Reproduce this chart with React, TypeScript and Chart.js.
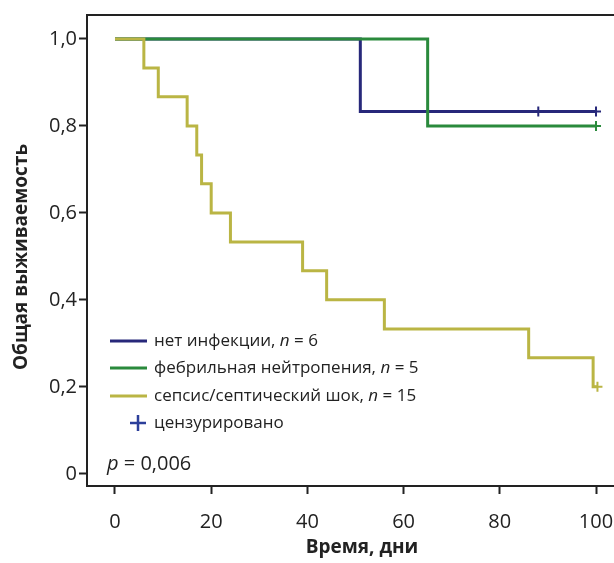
import React, { useEffect, useRef } from "react";
import { Chart, registerables } from "chart.js";

Chart.register(...registerables);

// ---- data ----
const noInfTimes = [0, 51, 88, 100];
const noInfSurv = [1, 0.833, 0.833, 0.833];
const noInfCensored = [false, false, true, true];

const febTimes = [0, 65, 100];
const febSurv = [1, 0.8, 0.8];
const febCensored = [false, false, true];

const sepsisTimes = [0, 6, 9, 15, 17, 18, 20, 24, 39, 44, 56, 86, 99.4, 100.3];
const sepsisSurv = [1, 0.933, 0.867, 0.8, 0.733, 0.667, 0.6, 0.533, 0.467, 0.4, 0.333, 0.267, 0.2, 0.2];
const sepsisCensored = [false, false, false, false, false, false, false, false, false, false, false, false, false, true];

const xTickValues = [0, 20, 40, 60, 80, 100];
const xTickLabels = ["0", "20", "40", "60", "80", "100"];
const yTickValues = [0, 0.2, 0.4, 0.6, 0.8, 1.0];
const yTickLabels = ["0", "0,2", "0,4", "0,6", "0,8", "1,0"];

const seriesNames = ["нет инфекции, ", "фебрильная нейтропения, ", "сепсис/септический шок, "];
const seriesN = ["6", "5", "15"];
const censoredLabel = "цензурировано";
const pValueText = "0,006";
const xTitle = "Время, дни";
const yTitle = "Общая выживаемость";

const BLUE = "#27287a";
const GREEN = "#2a8a3c";
const YELLOW = "#bab544";
const CENSOR_BLUE = "#2c3f9a";
const TEXT = "#222222";
const FONT = '"Open Sans", "DejaVu Sans", sans-serif';

function toPoints(t: number[], s: number[]) {
  return t.map((x, i) => ({ x, y: s[i] }));
}

function drawRuns(ctx: CanvasRenderingContext2D, x: number, y: number, runs: [string, boolean][], size: number) {
  let cx = x;
  for (const [txt, italic] of runs) {
    ctx.font = `${italic ? "italic " : ""}${size}px ${FONT}`;
    ctx.fillText(txt, cx, y);
    cx += ctx.measureText(txt).width;
  }
}

const framePlugin = {
  id: "frame",
  afterDraw(chart: any) {
    const { ctx, chartArea } = chart;
    const W = chart.width;
    ctx.save();
    ctx.strokeStyle = TEXT;
    ctx.lineWidth = 2;
    ctx.beginPath();
    ctx.moveTo(W + 2, chartArea.top);
    ctx.lineTo(chartArea.left, chartArea.top);
    ctx.lineTo(chartArea.left, chartArea.bottom);
    ctx.lineTo(W + 2, chartArea.bottom);
    ctx.stroke();

    // y-axis title
    ctx.save();
    ctx.translate(22, 257);
    ctx.rotate(-Math.PI / 2);
    ctx.textAlign = "center";
    ctx.textBaseline = "middle";
    ctx.fillStyle = TEXT;
    ctx.font = `bold 19px ${FONT}`;
    ctx.fillText(yTitle, 0, 0);
    ctx.restore();

    // x-axis title
    ctx.save();
    ctx.textAlign = "center";
    ctx.textBaseline = "middle";
    ctx.fillStyle = TEXT;
    ctx.font = `bold 19px ${FONT}`;
    ctx.fillText(xTitle, 362, 548);
    ctx.restore();

    // legend
    const lx = chartArea.left + 23;
    const ty = chartArea.top;
    const rows = [326, 353, 381];
    const colors = [BLUE, GREEN, YELLOW];
    ctx.textBaseline = "middle";
    ctx.fillStyle = TEXT;
    rows.forEach((r, i) => {
      ctx.strokeStyle = colors[i];
      ctx.lineWidth = 3;
      ctx.beginPath();
      ctx.moveTo(lx, ty + r);
      ctx.lineTo(lx + 37, ty + r);
      ctx.stroke();
      drawRuns(ctx, lx + 44, ty + r, [[seriesNames[i], false], ["n", true], [" = " + seriesN[i], false]], 17);
    });
    // censored entry
    const cy = ty + 408;
    const cxm = lx + 28;
    ctx.strokeStyle = CENSOR_BLUE;
    ctx.lineWidth = 2.5;
    ctx.beginPath();
    ctx.moveTo(cxm - 8, cy);
    ctx.lineTo(cxm + 8, cy);
    ctx.moveTo(cxm, cy - 8);
    ctx.lineTo(cxm, cy + 8);
    ctx.stroke();
    drawRuns(ctx, lx + 44, cy, [[censoredLabel, false]], 17);
    // p-value
    drawRuns(ctx, chartArea.left + 20, ty + 449, [["p", true], [" = " + pValueText, false]], 20);
    ctx.restore();
  },
};

function makeDataset(label: string, t: number[], s: number[], c: boolean[], color: string, order: number) {
  return {
    label,
    data: toPoints(t, s),
    borderColor: color,
    backgroundColor: color,
    borderWidth: 3,
    stepped: "before" as const,
    pointStyle: "cross" as const,
    pointRadius: c.map((v) => (v ? 5 : 0)),
    pointBorderWidth: 2,
    pointBorderColor: color,
    pointHoverRadius: 0,
    order,
  };
}

export default function App() {
  const ref = useRef<HTMLCanvasElement | null>(null);
  useEffect(() => {
    if (!ref.current) return;
    const chart = new Chart(ref.current, {
      type: "line",
      data: {
        datasets: [
          makeDataset("нет инфекции", noInfTimes, noInfSurv, noInfCensored, BLUE, 2),
          makeDataset("фебрильная нейтропения", febTimes, febSurv, febCensored, GREEN, 1),
          makeDataset("сепсис/септический шок", sepsisTimes, sepsisSurv, sepsisCensored, YELLOW, 0),
        ],
      },
      options: {
        responsive: false,
        animation: false,
        devicePixelRatio: 1,
        layout: { autoPadding: false, padding: { top: 15, right: 0, left: 0, bottom: 0 } },
        plugins: { legend: { display: false }, tooltip: { enabled: false } },
        scales: {
          x: {
            type: "linear",
            min: -5.82,
            max: 103.74,
            afterBuildTicks: (scale: any) => {
              scale.ticks = xTickValues.map((v) => ({ value: v }));
            },
            afterFit: (scale: any) => {
              scale.height = 77;
              scale.paddingLeft = 0;
              scale.paddingRight = 0;
            },
            grid: { display: true, drawOnChartArea: false, drawTicks: true, tickLength: 8, tickWidth: 2, tickColor: TEXT },
            border: { display: false },
            ticks: {
              color: TEXT,
              font: { family: FONT, size: 20 },
              padding: 16,
              maxRotation: 0,
              callback: (v: any) => {
                const i = xTickValues.indexOf(Number(v));
                return i >= 0 ? xTickLabels[i] : "";
              },
            },
            title: { display: false },
          },
          y: {
            type: "linear",
            min: -0.028,
            max: 1.055,
            afterBuildTicks: (scale: any) => {
              scale.ticks = yTickValues.map((v) => ({ value: v }));
            },
            afterFit: (scale: any) => {
              scale.width = 87;
              scale.paddingTop = 0;
              scale.paddingBottom = 0;
            },
            grid: { display: true, drawOnChartArea: false, drawTicks: true, tickLength: 8, tickWidth: 2, tickColor: TEXT },
            border: { display: false },
            ticks: {
              color: TEXT,
              font: { family: FONT, size: 20 },
              padding: 2,
              callback: (v: any) => {
                const i = yTickValues.findIndex((t) => Math.abs(t - Number(v)) < 1e-9);
                return i >= 0 ? yTickLabels[i] : "";
              },
            },
            title: { display: false },
          },
        },
      },
      plugins: [framePlugin],
    } as any);
    return () => chart.destroy();
  }, []);
  return (
    <div style={{ position: "fixed", left: 0, top: 0, width: 614, height: 563, background: "#fff" }}>
      <canvas ref={ref} width={614} height={563} style={{ display: "block", width: 614, height: 563 }} />
    </div>
  );
}
